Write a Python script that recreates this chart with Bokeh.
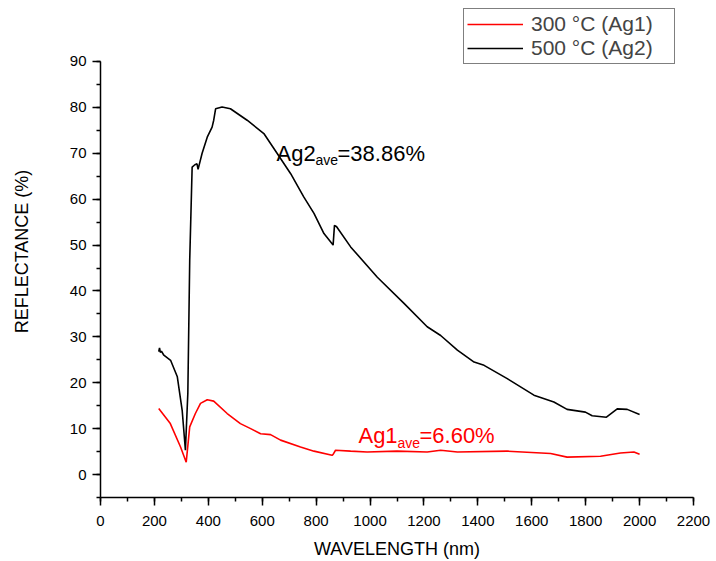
from bokeh.plotting import figure
from bokeh.models import Range1d, Label, Legend, LegendItem, FixedTicker
from bokeh.embed import file_html
from bokeh.resources import INLINE

# Ag2 (500 °C) reflectance curve
ag2_wl = [216, 219, 222, 226, 235, 260, 285, 303, 315, 324, 331, 340, 350, 358, 362, 377, 396, 414, 420, 427,
          451, 482, 544, 606, 655, 705, 754, 792, 829, 863, 868, 876, 928, 1027, 1126, 1212, 1262,
          1324, 1386, 1423, 1509, 1608, 1682, 1731, 1799, 1824, 1877, 1917, 1954, 2000]
ag2_r = [26.8, 27.6, 26.6, 26.9, 26.0, 24.9, 21.3, 14.0, 5.3, 17.7, 46.7, 67.0, 67.5, 67.7, 66.5, 70.0, 73.5, 75.7, 77.2, 79.7,
         80.1, 79.7, 77.2, 74.3, 70.0, 65.6, 60.5, 56.9, 52.5, 50.0, 54.3, 54.0, 49.6, 43.0, 37.3, 32.2, 30.3,
         27.1, 24.5, 23.8, 20.9, 17.3, 15.8, 14.2, 13.6, 12.8, 12.5, 14.3, 14.2, 13.1]

# Ag1 (300 °C) reflectance curve
ag1_wl = [216, 259, 297, 318, 331, 352, 371, 396, 420, 470, 519, 557, 594, 631, 668, 742, 792, 859, 863,
          872, 928, 989, 1100, 1212, 1262, 1324, 1509, 1670, 1731, 1855, 1929, 1979, 2000]
ag1_r = [14.4, 11.1, 6.0, 2.7, 10.4, 13.3, 15.5, 16.3, 16.0, 13.3, 11.1, 10.0, 8.9, 8.7, 7.5, 6.0, 5.1, 4.2, 4.4,
         5.3, 5.1, 4.9, 5.1, 4.9, 5.3, 4.9, 5.1, 4.6, 3.8, 4.0, 4.7, 4.9, 4.4]

series_labels = ["300 °C (Ag1)", "500 °C (Ag2)"]
x_ticks = list(range(0, 2201, 200))
y_ticks = list(range(0, 91, 10))

FONT = "Liberation Sans"

p = figure(frame_width=593, frame_height=492, min_border_left=100, min_border_right=23,
           min_border_top=5, min_border_bottom=64, output_backend="svg", toolbar_location=None,
           x_range=Range1d(0, 2200), y_range=Range1d(-5, 102.2))
p.outline_line_color = None
p.grid.visible = False
p.background_fill_color = "white"

r1 = p.line(ag1_wl, ag1_r, line_color="#ff0000", line_width=1.6)
r2 = p.line(ag2_wl, ag2_r, line_color="black", line_width=1.6)

for ax in (p.xaxis[0], p.yaxis[0]):
    ax.axis_line_width = 1.5
    ax.major_tick_line_width = 1.5
    ax.minor_tick_line_width = 1.5
    ax.major_tick_out = 8
    ax.major_tick_in = 0
    ax.minor_tick_out = 4
    ax.minor_tick_in = 0
    ax.major_label_text_font = FONT
    ax.major_label_text_font_size = "15px"
    ax.major_label_text_color = "black"
    ax.axis_label_text_font = FONT
    ax.axis_label_text_font_size = "18px"
    ax.axis_label_text_font_style = "normal"
    ax.axis_label_text_color = "black"

p.yaxis.bounds = (-5, 90)
p.xaxis.ticker = FixedTicker(ticks=x_ticks, minor_ticks=list(range(0, 2201, 100)))
p.yaxis.ticker = FixedTicker(ticks=y_ticks, minor_ticks=list(range(-5, 91, 5)))
p.xaxis.axis_label = "WAVELENGTH (nm)"
p.yaxis.axis_label = "REFLECTANCE (%)"
p.xaxis.major_label_standoff = 10
p.yaxis.major_label_standoff = 6
p.xaxis.axis_label_standoff = 10
p.yaxis.axis_label_standoff = 35

# annotations
def sub_label(x, y, main, sub, rest, color, sub_off, rest_off, sub_drop):
    kw = dict(text_font=FONT, text_color=color, text_baseline="alphabetic")
    p.add_layout(Label(x=x, y=y, text=main, text_font_size="22px", **kw))
    p.add_layout(Label(x=x, y=y, x_offset=sub_off, y_offset=-sub_drop, text=sub,
                       text_font_size="14px", **kw))
    p.add_layout(Label(x=x, y=y, x_offset=rest_off, text=rest, text_font_size="22px", **kw))

sub_label(653, 70.0, "Ag2", "ave", "=38.86%", "black", 39, 61, 7)
sub_label(957, 8.6, "Ag1", "ave", "=6.60%", "#ff0000", 39, 61, 8)

legend = Legend(items=[LegendItem(label=series_labels[0], renderers=[r1]),
                       LegendItem(label=series_labels[1], renderers=[r2])],
                location=(363, 433), label_text_font=FONT, label_text_font_size="21px",
                border_line_color="black", border_line_width=1.2, glyph_width=56, glyph_height=20,
                label_standoff=8, spacing=0, padding=3, margin=0, label_height=20,
                label_width=140, background_fill_color="white")
p.add_layout(legend, "center")

open("out.html", "w").write(file_html(p, INLINE))
